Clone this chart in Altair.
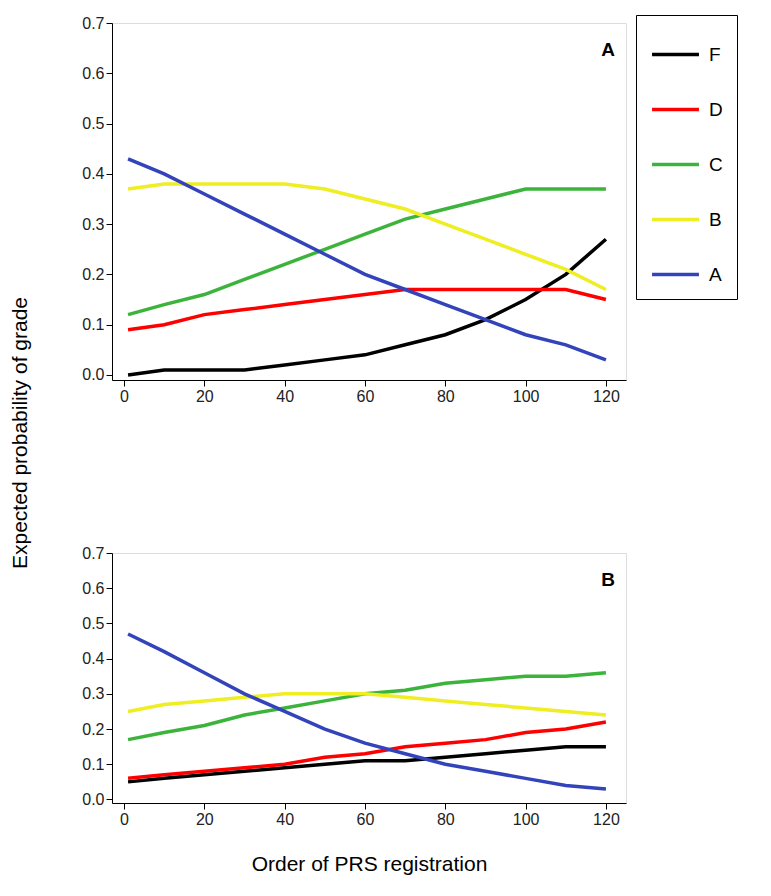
import altair as alt
import pandas as pd

order = [1, 10, 20, 30, 40, 50, 60, 70, 80, 90, 100, 110, 120]
grades = ["F", "D", "C", "B", "A"]
colors = ["#000000", "#ff0000", "#3cb43c", "#eeee22", "#3344bb"]

panel_a = {
    "F": [0.00, 0.01, 0.01, 0.01, 0.02, 0.03, 0.04, 0.06, 0.08, 0.11, 0.15, 0.20, 0.27],
    "D": [0.09, 0.10, 0.12, 0.13, 0.14, 0.15, 0.16, 0.17, 0.17, 0.17, 0.17, 0.17, 0.15],
    "C": [0.12, 0.14, 0.16, 0.19, 0.22, 0.25, 0.28, 0.31, 0.33, 0.35, 0.37, 0.37, 0.37],
    "B": [0.37, 0.38, 0.38, 0.38, 0.38, 0.37, 0.35, 0.33, 0.30, 0.27, 0.24, 0.21, 0.17],
    "A": [0.43, 0.40, 0.36, 0.32, 0.28, 0.24, 0.20, 0.17, 0.14, 0.11, 0.08, 0.06, 0.03],
}
panel_b = {
    "F": [0.05, 0.06, 0.07, 0.08, 0.09, 0.10, 0.11, 0.11, 0.12, 0.13, 0.14, 0.15, 0.15],
    "D": [0.06, 0.07, 0.08, 0.09, 0.10, 0.12, 0.13, 0.15, 0.16, 0.17, 0.19, 0.20, 0.22],
    "C": [0.17, 0.19, 0.21, 0.24, 0.26, 0.28, 0.30, 0.31, 0.33, 0.34, 0.35, 0.35, 0.36],
    "B": [0.25, 0.27, 0.28, 0.29, 0.30, 0.30, 0.30, 0.29, 0.28, 0.27, 0.26, 0.25, 0.24],
    "A": [0.47, 0.42, 0.36, 0.30, 0.25, 0.20, 0.16, 0.13, 0.10, 0.08, 0.06, 0.04, 0.03],
}


def long(d):
    rows = []
    for g in grades:
        for x, v in zip(order, d[g]):
            rows.append({"order": x, "prob": v, "grade": g})
    return pd.DataFrame(rows)


color = alt.Color("grade:N", scale=alt.Scale(domain=grades, range=colors),
                  sort=grades,
                  legend=alt.Legend(title=None, orient="none", legendX=625, legendY=-8,
                                    symbolType="stroke", symbolStrokeWidth=3.5,
                                    symbolSize=2200, labelFontSize=19, rowPadding=19,
                                    strokeColor="black", padding=14, labelOffset=8))

xs = alt.Scale(domain=[-3, 125], nice=False)
ys = alt.Scale(domain=[-0.01, 0.7], nice=False)
ax = dict(labelFontSize=16, labelColor="#222", grid=False, tickSize=6,
          domainColor="black", tickColor="black")


def panel(d, letter, h, xtitle):
    df = long(d)
    lines = alt.Chart(df).mark_line(strokeWidth=3.5).encode(
        x=alt.X("order:Q", scale=xs, axis=alt.Axis(values=[0, 20, 40, 60, 80, 100, 120],
                title=xtitle, titleFontSize=21, titleFontWeight="normal",
                titlePadding=26, **ax)),
        y=alt.Y("prob:Q", scale=ys, axis=alt.Axis(values=[0, .1, .2, .3, .4, .5, .6, .7],
                format=".1f", title=None, **ax)),
        color=color,
    )
    lab = alt.Chart(pd.DataFrame({"t": [letter]})).mark_text(
        fontSize=19, fontWeight="bold", align="right", baseline="top"
    ).encode(text="t:N", x=alt.value(503), y=alt.value(18))
    return alt.layer(lines, lab).properties(width=514, height=h)


top = panel(panel_a, "A", 357, None)
bot = panel(panel_b, "B", 250, "Order of PRS registration")
plots = alt.vconcat(top, bot, spacing=139)

ytitle = alt.Chart(pd.DataFrame({"t": ["Expected probability of grade"]})).mark_text(
    fontSize=21, angle=270, align="center", baseline="middle"
).encode(text="t:N", x=alt.value(10), y=alt.value(410)).properties(
    width=20, height=790, view=alt.ViewConfig(strokeWidth=0))

chart = alt.hconcat(ytitle, plots, spacing=50).configure_view(
    stroke="black", strokeWidth=1.2
).configure(font="Arial").properties(
    padding={"left": 2, "top": 6, "right": 5, "bottom": 5})

chart.save("out.html", embed_options={"renderer": "svg", "actions": False})
